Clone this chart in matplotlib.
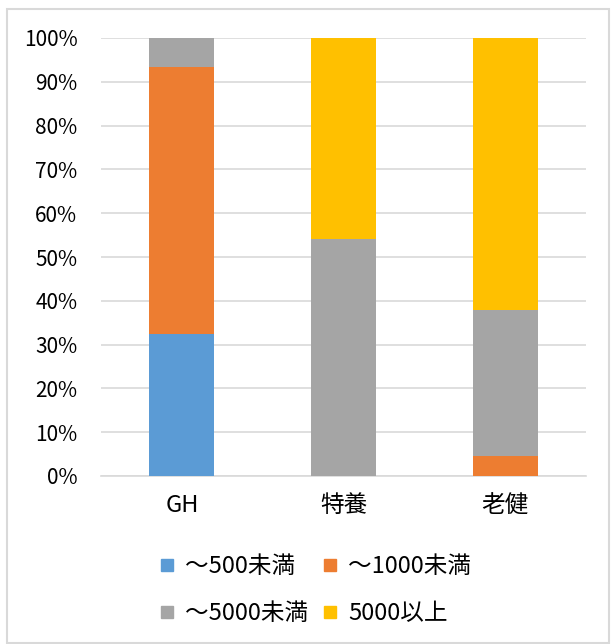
import numpy as np
import matplotlib
matplotlib.use('Agg')
import matplotlib.pyplot as plt
from matplotlib.lines import Line2D
from matplotlib.patches import Rectangle
from matplotlib.ticker import PercentFormatter

plt.rcParams['font.family'] = ['Noto Sans CJK JP', 'DejaVu Sans']

# data (percent of each facility)
categories = ['GH', '特養', '老健']
series_names = ['～500未満', '～1000未満', '～5000未満', '5000以上']
under_500 = [32.5, 0.0, 0.0]
under_1000 = [60.9, 0.0, 4.6]
under_5000 = [6.6, 54.1, 33.3]
over_5000 = [0.0, 45.9, 62.1]
colors = ['#5B9BD5', '#ED7D31', '#A5A5A5', '#FFC000']

fig = plt.figure(figsize=(6.11, 6.44), dpi=100)
ax = fig.add_axes([101 / 611, 1 - 476 / 644, 485 / 611, 438 / 644])

x = np.arange(len(categories))
bottom = np.zeros(len(categories))
for name, vals, c in zip(series_names, [under_500, under_1000, under_5000, over_5000], colors):
    ax.bar(x, vals, width=0.4, bottom=bottom, color=c, label=name, zorder=3)
    bottom += np.array(vals)

ax.set_xlim(-0.5, 2.5)
ax.set_ylim(0, 100)
ax.set_yticks(np.arange(0, 101, 10))
ax.yaxis.set_major_formatter(PercentFormatter(decimals=0))
ax.set_xticks(x)
ax.set_xticklabels(categories)
ax.grid(axis='y', color='#D9D9D9', linewidth=1.2, zorder=0)
for s in ['top', 'right', 'left']:
    ax.spines[s].set_visible(False)
ax.spines['bottom'].set_color('#D9D9D9')
ax.spines['bottom'].set_linewidth(1.2)
ax.tick_params(axis='y', length=0, pad=17, labelsize=15, labelcolor='#000000')
ax.tick_params(axis='x', length=0, pad=13, labelsize=17, labelcolor='#000000')

# legend is filled column by column, so reorder to get row-wise layout
handles = [Line2D([], [], marker='s', linestyle='none', markersize=8.5, color=c) for c in colors]
order = [0, 2, 1, 3]
fig.legend([handles[i] for i in order], [series_names[i] for i in order],
           loc='center', bbox_to_anchor=(0.5155, 0.0839), ncol=2,
           frameon=False, fontsize=17, handlelength=0.7, handletextpad=0.4,
           columnspacing=0.6, labelspacing=1.0)

# outer chart frame
fig.patches.append(Rectangle((7 / 611, 1 / 644), 602 / 611, 634 / 644, transform=fig.transFigure,
                             fill=False, edgecolor='#D9D9D9', linewidth=1.5))

fig.savefig('out.png', dpi=100)
